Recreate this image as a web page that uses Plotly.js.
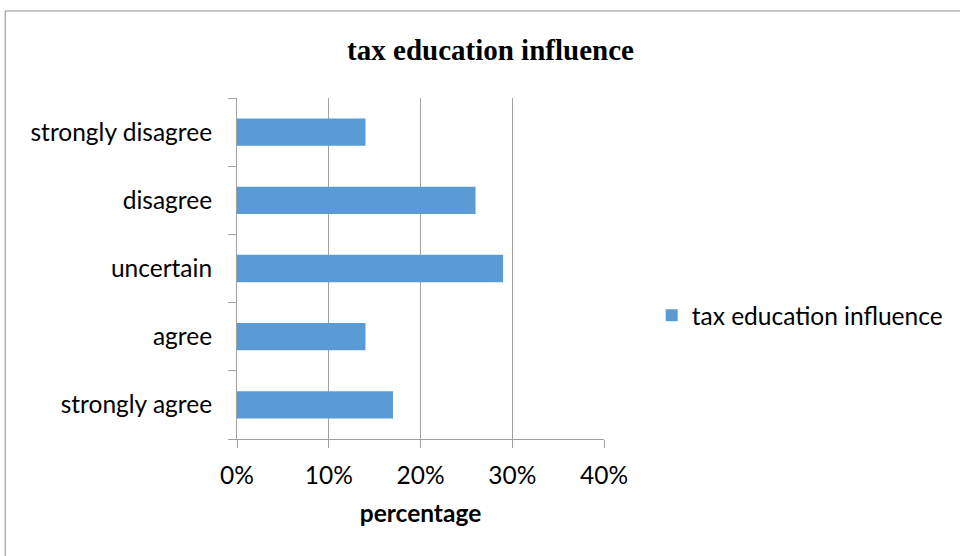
<!DOCTYPE html>
<html>
<head>
<meta charset="utf-8">
<script src="https://cdn.plot.ly/plotly-3.0.1.min.js"></script>
<style>html,body{margin:0;padding:0;background:#fff;}#chart{width:960px;height:556px;}</style>
</head>
<body>
<div id="chart"></div>
<script>
var categories = ["strongly agree", "agree", "uncertain", "disagree", "strongly disagree"];
var values = [0.17, 0.14, 0.29, 0.26, 0.14];
var seriesName = "tax education influence";
var chartTitle = "tax education influence";
var xTitle = "percentage";
var xTicks = [0, 0.1, 0.2, 0.3, 0.4];
var xTickLabels = ["0%", "10%", "20%", "30%", "40%"];

var L = 237.3, R = 604.3, T = 97.7, B = 439.3;
var W = 960, H = 556;
var pw = R - L, ph = B - T;
var FS = 24.5;
var FONT = "Lato, 'Open Sans', sans-serif";

var trace = {
  type: "bar",
  orientation: "h",
  y: categories,
  x: values,
  name: seriesName,
  width: 0.4,
  marker: {color: "#5b9bd5", line: {color: "#5b9bd5", width: 0}},
  showlegend: true,
  hoverinfo: "x+y"
};

var layout = {
  width: W, height: H,
  margin: {l: L, r: W - R, t: T, b: H - B, pad: 0},
  paper_bgcolor: "#ffffff",
  plot_bgcolor: "#ffffff",
  font: {family: FONT, size: FS, color: "#000"},
  title: {
    text: "<b>" + chartTitle + "</b>",
    font: {family: "'Liberation Serif', 'DejaVu Serif', serif", size: 29, color: "#000"},
    x: 490.5 / W, xref: "container", xanchor: "center",
    y: 1 - 50 / H, yref: "container", yanchor: "middle"
  },
  xaxis: {
    range: [0, 0.4],
    tickvals: xTicks,
    ticktext: xTickLabels,
    showgrid: true, gridcolor: "#a0a0a0", gridwidth: 1,
    showline: true, linecolor: "#a0a0a0", linewidth: 1,
    ticks: "outside", ticklen: 8, tickcolor: "#a0a0a0",
    zeroline: false,
    tickfont: {size: FS, family: FONT},
    ticklabelstandoff: 7,
    title: {text: "<b>" + xTitle + "</b>", font: {size: FS, family: FONT}, standoff: 16},
    fixedrange: true
  },
  yaxis: {
    type: "category",
    categoryorder: "array",
    categoryarray: categories,
    showgrid: false,
    showline: true, linecolor: "#a0a0a0", linewidth: 1,
    ticks: "outside", ticklen: 8, tickcolor: "#a0a0a0",
    tickson: "boundaries",
    tickfont: {size: FS, family: FONT},
    ticklabelstandoff: 19,
    zeroline: false,
    fixedrange: true
  },
  legend: {
    x: (652 - L) / pw, xanchor: "left",
    y: (B - 315.5) / ph, yanchor: "middle",
    font: {size: FS, family: FONT},
    bgcolor: "rgba(0,0,0,0)",
    itemwidth: 30
  },
  bargap: 0.6,
  shapes: [{
    type: "rect", xref: "paper", yref: "paper",
    x0: (5.5 - L) / pw, x1: (970 - L) / pw,
    y0: (B - 570) / ph, y1: (B - 10.5) / ph,
    line: {color: "#8c8c8c", width: 1}, fillcolor: "rgba(0,0,0,0)", layer: "below"
  }]
};

Plotly.newPlot("chart", [trace], layout, {displayModeBar: false, staticPlot: true});
</script>
</body>
</html>
